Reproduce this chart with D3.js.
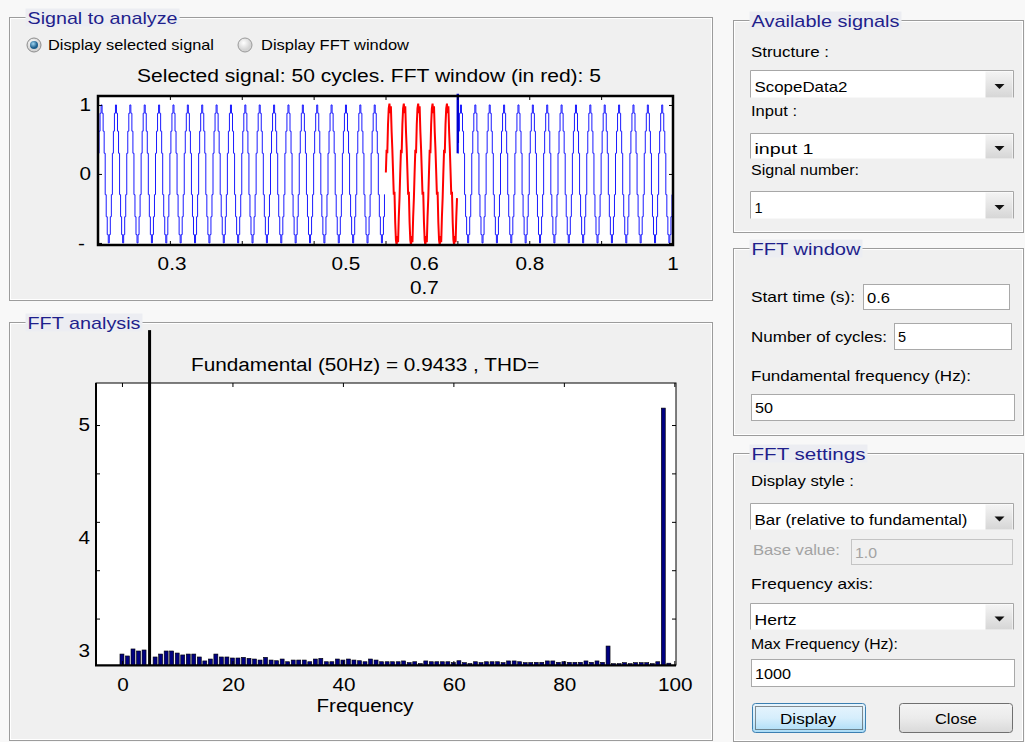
<!DOCTYPE html>
<html>
<head>
<meta charset="utf-8">
<script src="https://cdn.jsdelivr.net/npm/d3@7"></script>
<style>
  html, body { margin: 0; padding: 0; background: #f6f6f6; }
  svg { display: block; font-family: "Liberation Sans", Arial, sans-serif; }
</style>
</head>
<body>
<svg id="fig" width="1025" height="742"></svg>
<script>
'use strict';
// ---- signal to analyze ----
const SIG_T_DOMAIN = [0.2, 1.0];
const SIG_V_DOMAIN = [-1.03, 1.13];
const SIG_FREQ = 50;
const SIG_CYCLES = 40;
const FFT_WINDOW = [0.6, 0.7];
// one period of the stepped waveform
const BLUE_CYCLE = [0.3, 0.62, 0.88, 1.0, 0.88, 0.62, 0.3, -0.3, -0.62, -0.88, -1.0, -0.88, -0.62, -0.3];
const RED_CYCLE = [0.02, 0.35, 0.3, 0.72, 0.95, 1.02, 0.88, 0.98, 0.62, 0.36,
  0.04, -0.3, -0.26, -0.7, -0.96, -1.03, -0.9, -0.99, -0.62, -0.35];
const GLITCH_T = [0.7, 0.7, 0.7012, 0.7012];
const GLITCH_V = [0.3, 1.15, 1.15, 0.45];
const SIG_TICKS = [0.2, 0.3, 0.4, 0.5, 0.6, 0.7, 0.8, 0.9, 1.0];
const SIG_XLABELS = ['0.3', '0.5', '0.6', '0.8', '1'];
const SIG_XLABEL_AT = [0.303, 0.545, 0.654, 0.801, 1.0];
const SIG_XLABELS2 = ['0.7'];
const SIG_XLABEL2_AT = [0.654];
const SIG_YLABELS = ['1', '0', '-'];
const SIG_YLABEL_AT = [1, 0, -1];

// ---- FFT analysis ----
const FFT_X_DOMAIN = [-4.7, 100.3];
const FFT_Y_DOMAIN = [2.876, 5.372];
const FUND_INDEX = 5;
const FFT_VALUES = [
  2.973, 2.956, 3.018, 3.000, 3.009, 5.84, 2.947, 2.973, 3.000, 3.000,
  2.982, 2.965, 2.973, 2.973, 2.947, 2.912, 2.929, 2.973, 2.947, 2.947,
  2.938, 2.938, 2.944, 2.935, 2.929, 2.920, 2.944, 2.920, 2.914, 2.929,
  2.905, 2.920, 2.920, 2.920, 2.905, 2.929, 2.935, 2.905, 2.905, 2.929,
  2.920, 2.929, 2.920, 2.914, 2.905, 2.929, 2.920, 2.905, 2.905, 2.905,
  2.905, 2.912, 2.897, 2.905, 2.889, 2.912, 2.905, 2.905, 2.905, 2.905,
  2.897, 2.914, 2.897, 2.889, 2.905, 2.897, 2.905, 2.905, 2.905, 2.897,
  2.912, 2.912, 2.905, 2.897, 2.898, 2.900, 2.900, 2.912, 2.912, 2.900,
  2.905, 2.900, 2.900, 2.900, 2.912, 2.900, 2.912, 2.900, 3.044, 2.888,
  2.888, 2.897, 2.888, 2.897, 2.897, 2.897, 2.888, 2.905, 5.15, 2.892
];
const FFT_XTICKS = [0, 20, 40, 60, 80, 100];
const FFT_YLABELS = [5, 4, 3];
const FFT_YTICKS = [5, 4.572, 4.143, 3.715, 3.287];

const svg = d3.select('#fig');
const PANEL_BG = '#f0f0f0';
const TITLE_BLUE = '#1f1f8c';

function txt(g, s, x, y, o = {}) {
  const t = g.append('text')
    .attr('x', x).attr('y', y).text(s)
    .attr('font-size', o.size || 14)
    .attr('fill', o.color || '#000')
    .attr('text-anchor', o.anchor || 'start')
    .attr('dominant-baseline', 'central');
  let w = o.width;
  if (!w && o.stretch) w = t.node().getComputedTextLength() * o.stretch;
  if (w) t.attr('textLength', w).attr('lengthAdjust', 'spacingAndGlyphs');
  return t;
}

function panel(x, y, w, h, title, titleW) {
  const g = svg.append('g');
  g.append('rect').attr('x', x).attr('y', y).attr('width', w).attr('height', h)
    .attr('fill', PANEL_BG).attr('stroke', '#9c9c9c').attr('stroke-width', 1);
  g.append('rect').attr('x', x + 1).attr('y', y + 1).attr('width', w - 2).attr('height', h - 2)
    .attr('fill', 'none').attr('stroke', '#ffffff').attr('stroke-width', 1);
  g.append('rect').attr('x', x + 16).attr('y', y - 9).attr('width', titleW + 4).attr('height', 18)
    .attr('fill', '#ecedf2');
  txt(g, title, x + 18, y + 1, { size: 17, color: TITLE_BLUE, width: titleW });
  return g;
}

// background
svg.append('rect').attr('width', 1025).attr('height', 742).attr('fill', '#f8f8f8');

// ================= Signal to analyze =================
const p1 = panel(9.5, 17.5, 703, 283, 'Signal to analyze', 150);

const defs = svg.append('defs');
const rg = defs.append('radialGradient').attr('id', 'radioOn').attr('cx', '40%').attr('cy', '35%');
rg.append('stop').attr('offset', '0%').attr('stop-color', '#9fd6f2');
rg.append('stop').attr('offset', '100%').attr('stop-color', '#1b5d8c');
const rgOff = defs.append('radialGradient').attr('id', 'radioOff').attr('cx', '40%').attr('cy', '35%');
rgOff.append('stop').attr('offset', '0%').attr('stop-color', '#ffffff');
rgOff.append('stop').attr('offset', '100%').attr('stop-color', '#d4d4d4');

p1.append('circle').attr('cx', 34).attr('cy', 45).attr('r', 7)
  .attr('fill', 'url(#radioOff)').attr('stroke', '#8c8c8c');
p1.append('circle').attr('cx', 34).attr('cy', 45).attr('r', 4)
  .attr('fill', 'url(#radioOn)');
txt(p1, 'Display selected signal', 48, 45, { size: 14.5, width: 166 });
p1.append('circle').attr('cx', 245).attr('cy', 45).attr('r', 7)
  .attr('fill', 'url(#radioOff)').attr('stroke', '#9a9a9a');
txt(p1, 'Display FFT window', 261, 45, { size: 14.5, width: 148 });

txt(p1, 'Selected signal: 50 cycles. FFT window (in red): 5', 369, 76,
  { size: 18, anchor: 'middle', width: 464 });

const xS = d3.scaleLinear().domain(SIG_T_DOMAIN).range([98, 673]);
const yS = d3.scaleLinear().domain(SIG_V_DOMAIN).range([245, 96]);

p1.append('rect').attr('x', 98).attr('y', 96).attr('width', 575).attr('height', 149)
  .attr('fill', '#ffffff');

function cyclePoints(shape, c0, c1) {
  const pts = [];
  for (let c = c0; c < c1; c++) {
    shape.forEach((v, k) => {
      pts.push([SIG_T_DOMAIN[0] + (c + (k + 0.5) / shape.length) / SIG_FREQ, v]);
    });
  }
  return pts;
}
const cWin0 = Math.round((FFT_WINDOW[0] - SIG_T_DOMAIN[0]) * SIG_FREQ);
const cWin1 = Math.round((FFT_WINDOW[1] - SIG_T_DOMAIN[0]) * SIG_FREQ);

const stepLine = d3.line().x((d) => xS(d[0])).y((d) => yS(d[1])).curve(d3.curveStep);
const plainLine = d3.line().x((d) => xS(d[0])).y((d) => yS(d[1]));

[cyclePoints(BLUE_CYCLE, 0, cWin0), cyclePoints(BLUE_CYCLE, cWin1, SIG_CYCLES)].forEach((pts) => {
  p1.append('path').attr('d', stepLine(pts))
    .attr('fill', 'none').attr('stroke', '#1a1aff').attr('stroke-width', 1);
});
p1.append('path').attr('d', stepLine(GLITCH_T.map((t, i) => [t, GLITCH_V[i]])))
  .attr('fill', 'none').attr('stroke', '#0000d0').attr('stroke-width', 1.6);
p1.append('path').attr('d', plainLine(cyclePoints(RED_CYCLE, cWin0, cWin1)))
  .attr('fill', 'none').attr('stroke', '#ff0000').attr('stroke-width', 2);

// ticks
p1.append('g').attr('transform', 'translate(0,96)')
  .call(d3.axisTop(xS).tickValues(SIG_TICKS).tickSizeInner(-4).tickSizeOuter(0).tickFormat(''))
  .call((g) => g.select('.domain').remove());
p1.append('g').attr('transform', 'translate(0,245)')
  .call(d3.axisBottom(xS).tickValues(SIG_TICKS).tickSizeInner(-4).tickSizeOuter(0).tickFormat(''))
  .call((g) => g.select('.domain').remove());
p1.append('g').attr('transform', 'translate(673,0)')
  .call(d3.axisRight(yS).tickValues(SIG_YLABEL_AT).tickSizeInner(-4).tickSizeOuter(0).tickFormat(''))
  .call((g) => g.select('.domain').remove());
p1.append('g').attr('transform', 'translate(98,0)')
  .call(d3.axisLeft(yS).tickValues(SIG_YLABEL_AT).tickSizeInner(-4).tickSizeOuter(0).tickFormat(''))
  .call((g) => g.select('.domain').remove());
p1.append('rect').attr('x', 98).attr('y', 96).attr('width', 575).attr('height', 149)
  .attr('fill', 'none').attr('stroke', '#000').attr('stroke-width', 2.5);

SIG_YLABELS.forEach((s, i) => {
  txt(p1, s, i === 2 ? 85 : 91, yS(SIG_YLABEL_AT[i]) + (i === 2 ? 1 : 0), { size: 18, anchor: 'end', stretch: 1.15 });
});
SIG_XLABELS.forEach((s, i) => {
  txt(p1, s, xS(SIG_XLABEL_AT[i]), 264, { size: 18, anchor: 'middle', stretch: 1.15 });
});
SIG_XLABELS2.forEach((s, i) => {
  txt(p1, s, xS(SIG_XLABEL2_AT[i]), 288, { size: 18, anchor: 'middle', stretch: 1.15 });
});

// ================= FFT analysis =================
const p2 = panel(9.5, 322.5, 703, 418, 'FFT analysis', 113);

txt(p2, 'Fundamental (50Hz) = 0.9433 , THD=', 365, 365, { size: 18, anchor: 'middle', width: 348 });

const xF = d3.scaleLinear().domain(FFT_X_DOMAIN).range([96, 676]);
const yF = d3.scaleLinear().domain(FFT_Y_DOMAIN).range([665, 383]);

p2.append('rect').attr('x', 96).attr('y', 383).attr('width', 580).attr('height', 282)
  .attr('fill', '#ffffff').attr('stroke', '#000').attr('stroke-width', 1);

const barW = xF(0.36) - xF(-0.36);
p2.append('g').selectAll('rect')
  .data(FFT_VALUES)
  .enter()
  .append('rect')
  .attr('x', (d, i) => xF(i) - (i === FUND_INDEX ? 1.5 : barW / 2))
  .attr('width', (d, i) => (i === FUND_INDEX ? 3 : barW))
  .attr('y', (d) => yF(d))
  .attr('height', (d) => yF(FFT_Y_DOMAIN[0]) - yF(d))
  .attr('fill', (d, i) => (i === FUND_INDEX ? '#000' : '#000080'))
  .attr('stroke', '#000')
  .attr('stroke-width', (d, i) => (i === FUND_INDEX ? 0 : 0.6));

p2.append('g').attr('transform', 'translate(0,383)')
  .call(d3.axisTop(xF).tickValues(FFT_XTICKS).tickSizeInner(-4).tickSizeOuter(0).tickFormat(''))
  .call((g) => g.select('.domain').remove());
p2.append('g').attr('transform', 'translate(0,665)')
  .call(d3.axisBottom(xF).tickValues(FFT_XTICKS).tickSizeInner(-4).tickSizeOuter(0).tickFormat(''))
  .call((g) => g.select('.domain').remove());
p2.append('g').attr('transform', 'translate(96,0)')
  .call(d3.axisLeft(yF).tickValues(FFT_YTICKS).tickSizeInner(-4).tickSizeOuter(0).tickFormat(''))
  .call((g) => g.select('.domain').remove());
p2.append('g').attr('transform', 'translate(676,0)')
  .call(d3.axisRight(yF).tickValues(FFT_YTICKS).tickSizeInner(-4).tickSizeOuter(0).tickFormat(''))
  .call((g) => g.select('.domain').remove());
// heavier left and bottom edges
p2.append('line').attr('x1', 96).attr('x2', 96).attr('y1', 383).attr('y2', 666)
  .attr('stroke', '#000').attr('stroke-width', 2);
p2.append('line').attr('x1', 95).attr('x2', 676).attr('y1', 665.5).attr('y2', 665.5)
  .attr('stroke', '#000').attr('stroke-width', 2);

FFT_YLABELS.forEach((v) => {
  txt(p2, String(v), 90, yF(v), { size: 18, anchor: 'end', stretch: 1.15 });
});
FFT_XTICKS.forEach((v) => {
  txt(p2, String(v), xF(v) + 1, 685, { size: 18, anchor: 'middle', stretch: 1.15 });
});
txt(p2, 'Frequency', 365, 706, { size: 18, anchor: 'middle', width: 97 });

// ================= right-hand controls =================
const gradBtn = defs.append('linearGradient').attr('id', 'ddBtn').attr('x1', 0).attr('y1', 0).attr('x2', 0).attr('y2', 1);
gradBtn.append('stop').attr('offset', '0%').attr('stop-color', '#f4f4f4');
gradBtn.append('stop').attr('offset', '100%').attr('stop-color', '#d6d6d6');
const gradBlue = defs.append('linearGradient').attr('id', 'blueBtn').attr('x1', 0).attr('y1', 0).attr('x2', 0).attr('y2', 1);
gradBlue.append('stop').attr('offset', '0%').attr('stop-color', '#e8f5fd');
gradBlue.append('stop').attr('offset', '50%').attr('stop-color', '#d6eefc');
gradBlue.append('stop').attr('offset', '100%').attr('stop-color', '#a9dbf6');
const gradGray = defs.append('linearGradient').attr('id', 'grayBtn').attr('x1', 0).attr('y1', 0).attr('x2', 0).attr('y2', 1);
gradGray.append('stop').attr('offset', '0%').attr('stop-color', '#f4f4f4');
gradGray.append('stop').attr('offset', '50%').attr('stop-color', '#ebebeb');
gradGray.append('stop').attr('offset', '100%').attr('stop-color', '#d9d9d9');

function dropdown(g, x, y, w, h, label, labelW) {
  g.append('rect').attr('x', x).attr('y', y).attr('width', w).attr('height', h).attr('fill', '#fff');
  g.append('rect').attr('x', x + w - 28).attr('y', y + 1).attr('width', 27).attr('height', h - 1)
    .attr('fill', 'url(#ddBtn)');
  g.append('path').attr('d', `M${x},${y + h}V${y}H${x + w}V${y + h}`)
    .attr('fill', 'none').attr('stroke', '#a7a7a7');
  const ax = x + w - 14, ay = y + h / 2 + 2;
  g.append('path').attr('d', `M${ax - 5},${ay - 2}L${ax + 5},${ay - 2}L${ax},${ay + 3}Z`).attr('fill', '#111');
  txt(g, label, x + 4, y + h / 2 + 3, { size: 14.5, width: labelW });
}
function inputBox(g, x, y, w, h, label, labelW, disabled) {
  g.append('rect').attr('x', x + 0.5).attr('y', y + 0.5).attr('width', w).attr('height', h)
    .attr('fill', disabled ? '#f0f0f0' : '#fff').attr('stroke', disabled ? '#c4c4c4' : '#a9a9a9');
  txt(g, label, x + 4, y + h / 2 + 1, { size: 14.5, width: labelW, color: disabled ? '#a3a3a3' : '#000' });
}

const p3 = panel(733.5, 20.5, 290, 212, 'Available signals', 148);
txt(p3, 'Structure :', 751, 52, { size: 14.5, width: 78 });
dropdown(p3, 750.5, 70.5, 263, 27, 'ScopeData2', 93);
txt(p3, 'Input :', 751, 111, { size: 14.5, width: 46 });
dropdown(p3, 750.5, 133.5, 263, 25, 'input 1', 59);
txt(p3, 'Signal number:', 751, 170, { size: 14.5, width: 108 });
dropdown(p3, 750.5, 191.5, 263, 27, '1');

const p4 = panel(733.5, 248.5, 290, 187, 'FFT window', 109);
txt(p4, 'Start time (s):', 751, 297, { size: 14.5, width: 104 });
inputBox(p4, 863, 284, 146, 25, '0.6', 23);
txt(p4, 'Number of cycles:', 751, 337, { size: 14.5, width: 136 });
inputBox(p4, 894, 323, 117, 26, '5');
txt(p4, 'Fundamental frequency (Hz):', 751, 376, { size: 14.5, width: 220 });
inputBox(p4, 751, 394, 263, 26, '50', 18);

const p5 = panel(733.5, 453.5, 290, 288, 'FFT settings', 114);
txt(p5, 'Display style :', 751, 481, { size: 14.5, width: 103 });
dropdown(p5, 750.5, 503.5, 263, 26, 'Bar (relative to fundamental)', 213);
txt(p5, 'Base value:', 753, 550, { size: 14.5, width: 87, color: '#a3a3a3' });
inputBox(p5, 851, 539, 161, 25, '1.0', 22, true);
txt(p5, 'Frequency axis:', 751, 584, { size: 14.5, width: 122 });
dropdown(p5, 750.5, 603.5, 263, 26, 'Hertz', 42);
txt(p5, 'Max Frequency (Hz):', 751, 644, { size: 14.5, width: 147 });
inputBox(p5, 751, 659, 263, 27, '1000', 36);

p5.append('rect').attr('x', 752.5).attr('y', 703.5).attr('width', 113).attr('height', 29).attr('rx', 3)
  .attr('fill', 'url(#blueBtn)').attr('stroke', '#3c7fb1');
p5.append('rect').attr('x', 755.5).attr('y', 706.5).attr('width', 107).attr('height', 23)
  .attr('fill', 'none').attr('stroke', '#222').attr('stroke-width', 1).attr('stroke-dasharray', '1,1');
txt(p5, 'Display', 808, 719, { size: 14.5, anchor: 'middle', width: 56 });
p5.append('rect').attr('x', 899.5).attr('y', 703.5).attr('width', 113).attr('height', 29).attr('rx', 3)
  .attr('fill', 'url(#grayBtn)').attr('stroke', '#707070');
txt(p5, 'Close', 956, 719, { size: 14.5, anchor: 'middle', width: 42 });
</script>
</body>
</html>
